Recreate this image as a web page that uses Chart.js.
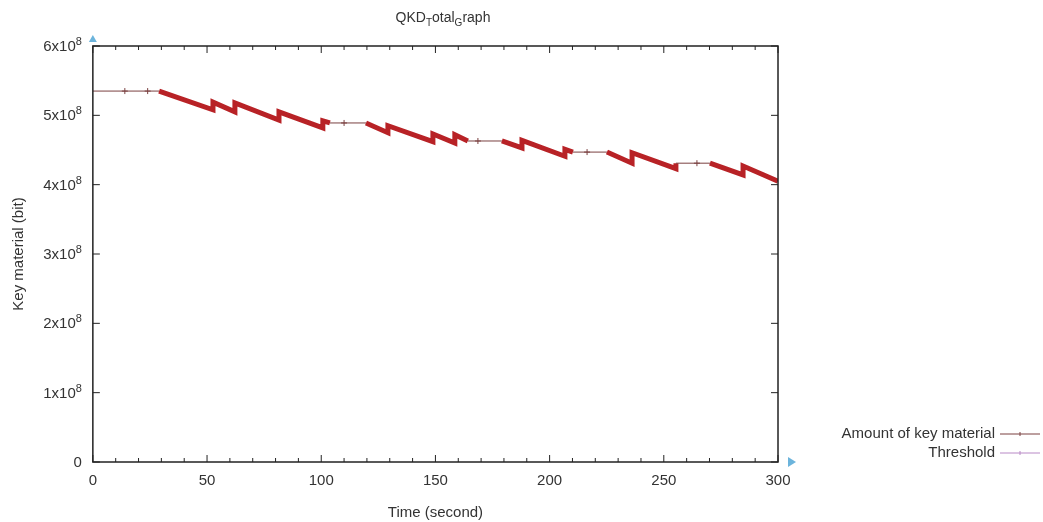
<!DOCTYPE html>
<html>
<head>
<meta charset="utf-8">
<script src="https://cdn.jsdelivr.net/npm/chart.js@4.4.1/dist/chart.umd.min.js"></script>
<style>
  html, body { margin:0; padding:0; background:#fff; }
  #wrap { position:relative; width:1043px; height:522px; }
  #titulo { position:absolute; top:9px; left:93px; width:700px; text-align:center;
            font:14px "Liberation Sans", Arial, sans-serif; color:#333; }
  #titulo sub { font-size:10px; }
</style>
</head>
<body>
<div id="wrap">
  <div id="titulo">QKD<sub>T</sub>otal<sub>G</sub>raph</div>
  <canvas id="grafico" width="1043" height="522"></canvas>
</div>
<script>
// datos (tiempo en s, material en bits)
const tiempos  = [0, 14, 24, 29, 52.6, 52.6, 62.2, 62.2, 81.5, 81.5, 100.7, 100.7, 103.8, 110, 119.6,
                  129.2, 129.2, 148.9, 148.9, 158.5, 158.5, 164.2, 168.6, 179.1, 187.9, 187.9,
                  206.7, 206.7, 210.2, 216.4, 225.1, 236.1, 236.1, 255.3, 255.3, 264.5, 270.2,
                  284.7, 284.7, 300];
const material = [5.35e8, 5.35e8, 5.35e8, 5.35e8, 5.08e8, 5.19e8, 5.05e8, 5.18e8, 4.93e8, 5.05e8,
                  4.82e8, 4.92e8, 4.89e8, 4.89e8, 4.89e8, 4.75e8, 4.85e8, 4.62e8, 4.73e8, 4.60e8,
                  4.72e8, 4.63e8, 4.63e8, 4.63e8, 4.53e8, 4.64e8, 4.41e8, 4.51e8, 4.47e8, 4.47e8,
                  4.47e8, 4.31e8, 4.46e8, 4.23e8, 4.31e8, 4.31e8, 4.31e8, 4.14e8, 4.27e8, 4.05e8];
const umbral   = [];   // la serie Threshold no aparece dentro del rango
const ticksX   = [0, 50, 100, 150, 200, 250, 300];
const ticksY   = [0, 1e8, 2e8, 3e8, 4e8, 5e8, 6e8];

const FUENTE = '"Liberation Sans", Arial, sans-serif';
const colorFino = '#7a4040';
const colorRojo = '#b82226';
const colorUmbral = '#b889c6';
const colorTexto = '#333';

const esPlano = (d, i) => d[i-1] && d[i+1] && d[i-1].y === d[i].y && d[i+1].y === d[i].y;

// marco estilo gnuplot: borde, ticks hacia dentro, etiquetas con exponente, flechas y leyenda
const marcoGnuplot = {
  id: 'marcoGnuplot',
  afterDraw(chart) {
    const { ctx, chartArea:a, scales:{ x, y } } = chart;
    const linea = (x1,y1,x2,y2) => { ctx.beginPath(); ctx.moveTo(x1,y1); ctx.lineTo(x2,y2); ctx.stroke(); };
    ctx.save();
    ctx.strokeStyle = '#222'; ctx.lineWidth = 1.5;
    ctx.strokeRect(a.left, a.top, a.right - a.left, a.bottom - a.top);
    ctx.lineWidth = 1;
    for (let t = x.min; t <= x.max; t += 10) {
      const px = x.getPixelForValue(t);
      const len = ticksX.includes(t) ? 7 : 4;
      linea(px, a.bottom, px, a.bottom - len);
      linea(px, a.top, px, a.top + len);
    }
    // etiquetas del eje Y con superíndice
    ctx.fillStyle = colorTexto; ctx.textAlign = 'right'; ctx.textBaseline = 'alphabetic';
    const borde = a.left - 11;
    ticksY.forEach(v => {
      const py = y.getPixelForValue(v);
      linea(a.left, py, a.left + 7, py);
      linea(a.right, py, a.right - 7, py);
      if (v === 0) {
        ctx.font = '15px ' + FUENTE; ctx.fillText('0', borde, py + 5);
      } else {
        ctx.font = '11px ' + FUENTE;
        const wExp = ctx.measureText('8').width;
        ctx.fillText('8', borde, py - 1);
        ctx.font = '15px ' + FUENTE;
        ctx.fillText((v / 1e8) + 'x10', borde - wExp, py + 5);
      }
    });
    // flechas azules de los ejes
    ctx.fillStyle = '#6cb4dc';
    ctx.beginPath(); ctx.moveTo(a.left - 4, a.top - 4); ctx.lineTo(a.left + 4, a.top - 4); ctx.lineTo(a.left, a.top - 11); ctx.fill();
    ctx.beginPath(); ctx.moveTo(a.right + 10, a.bottom - 5); ctx.lineTo(a.right + 10, a.bottom + 5); ctx.lineTo(a.right + 18, a.bottom); ctx.fill();
    // leyenda
    ctx.font = '15px ' + FUENTE; ctx.textAlign = 'right'; ctx.textBaseline = 'middle'; ctx.fillStyle = colorTexto;
    const colores = [colorFino, colorUmbral];
    chart.data.datasets.forEach((ds, i) => {
      const ly = 434 + i * 19;
      ctx.fillText(ds.label, 995, ly);
      ctx.strokeStyle = colores[i]; ctx.lineWidth = 1;
      linea(1000, ly, 1040, ly);
      linea(1020, ly - 2, 1020, ly + 2);
    });
    ctx.restore();
  }
};

new Chart(document.getElementById('grafico'), {
  type: 'line',
  data: {
    datasets: [
      {
        label: 'Amount of key material',
        data: tiempos.map((t, i) => ({ x: t, y: material[i] })),
        borderColor: colorFino,
        borderWidth: 1,
        pointStyle: 'cross',
        pointRadius: ctx => esPlano(ctx.dataset.data, ctx.dataIndex) ? 3 : 0,
        pointBorderColor: colorFino,
        pointBorderWidth: 1,
        segment: {
          borderColor: c => c.p0.parsed.y === c.p1.parsed.y ? colorFino : colorRojo,
          borderWidth: c => c.p0.parsed.y === c.p1.parsed.y ? 1 : 5
        }
      },
      {
        label: 'Threshold',
        data: umbral,
        borderColor: colorUmbral,
        borderWidth: 1,
        pointRadius: 0
      }
    ]
  },
  options: {
    responsive: false,
    animation: false,
    layout: { padding: { top: 46, right: 265, left: 10, bottom: 0 } },
    plugins: { legend: { display: false }, tooltip: { enabled: false } },
    scales: {
      x: {
        type: 'linear', min: 0, max: 300,
        afterBuildTicks: s => { s.ticks = ticksX.map(v => ({ value: v })); },
        grid: { display: false, drawTicks: false },
        border: { display: false },
        ticks: { color: colorTexto, font: { family: FUENTE, size: 15 }, padding: 10, maxRotation: 0 },
        title: { display: true, text: 'Time (second)', color: colorTexto, font: { family: FUENTE, size: 15 }, padding: { top: 4, bottom: 0 } }
      },
      y: {
        min: 0, max: 6e8,
        afterBuildTicks: s => { s.ticks = ticksY.map(v => ({ value: v })); },
        grid: { display: false, drawTicks: false },
        border: { display: false },
        // las etiquetas visibles se dibujan en el plugin (con exponente); éstas reservan el espacio
        ticks: { color: 'rgba(0,0,0,0)', font: { family: FUENTE, size: 15 }, padding: 9,
                 callback: v => v === 0 ? '0' : (v / 1e8) + 'x10⁸' },
        title: { display: true, text: 'Key material (bit)', color: colorTexto, font: { family: FUENTE, size: 15 }, padding: { top: 0, bottom: 8 } }
      }
    }
  },
  plugins: [marcoGnuplot]
});
</script>
</body>
</html>
